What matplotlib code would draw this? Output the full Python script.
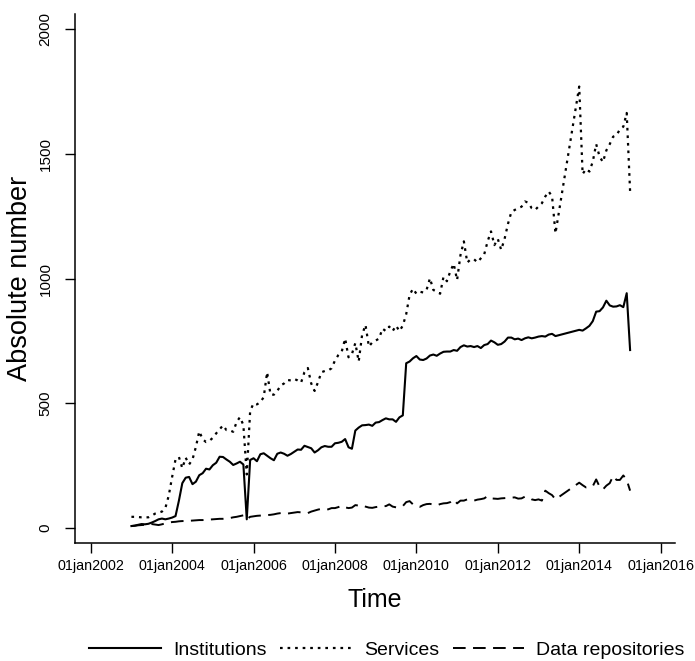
import matplotlib.pyplot as plt
import pandas as pd

plt.switch_backend("Agg")
plt.rcParams["font.family"] = ["Liberation Sans", "DejaVu Sans"]

# monthly counts, Jan 2003 - Apr 2015 (no observations Jul-Dec 2013)
months = pd.date_range("2003-01-01", "2015-04-01", freq="MS")
months = months[(months < "2013-07-01") | (months >= "2014-01-01")]

institutions = [
    8, 10, 13, 16, 15, 17, 22, 28, 35, 38, 35, 38,
    42, 48, 110, 180, 202, 205, 176, 186, 212, 220, 238, 235,
    252, 262, 286, 285, 275, 266, 253, 259, 266, 255, 35, 273,
    280, 268, 296, 300, 290, 280, 272, 298, 303, 298, 290, 297,
    306, 315, 314, 330, 325, 320, 303, 312, 324, 329, 326, 326,
    340, 342, 346, 357, 324, 318, 391, 403, 412, 413, 415, 410,
    423, 425, 433, 440, 436, 436, 426, 444, 452, 661, 668, 681,
    690, 676, 674, 680, 692, 696, 691, 700, 707, 708, 708, 714,
    711, 726, 733, 728, 730, 726, 730, 722, 734, 738, 752, 745,
    735, 738, 748, 764, 764, 757, 760, 754, 761, 765, 761, 764,
    768, 770, 768, 776, 779, 770,
    795, 792, 801, 811, 830, 868, 870, 885, 912, 893, 888, 889,
    894, 886, 942, 714,
]
services = [
    45, 45, 44, 43, 43, 43, 50, 58, 62, 66, 80, 130,
    205, 275, 285, 240, 282, 255, 275, 325, 388, 356, 345, 350,
    362, 380, 396, 412, 393, 392, 386, 425, 445, 413, 215, 470,
    500, 496, 505, 525, 625, 535, 535, 550, 572, 580, 594, 592,
    598, 592, 583, 625, 642, 580, 550, 585, 625, 630, 632, 641,
    672, 694, 708, 760, 685, 698, 742, 668, 775, 815, 728, 745,
    752, 760, 800, 790, 808, 790, 812, 790, 812, 858, 935, 960,
    940, 948, 945, 955, 1002, 955, 948, 940, 1008, 990, 1030, 1060,
    995, 1095, 1150, 1065, 1078, 1078, 1066, 1082, 1098, 1150, 1190, 1135,
    1160, 1116, 1160, 1220, 1268, 1276, 1283, 1289, 1310, 1305, 1283, 1276,
    1290, 1303, 1330, 1350, 1330, 1182,
    1771, 1420, 1440, 1430, 1470, 1540, 1490, 1468, 1515, 1540, 1570, 1575,
    1600, 1610, 1665, 1350,
]
repositories = [
    8, 9, 11, 12, 13, 15, 16, 14, 12, 15, 19, 22,
    24, 25, 27, 28, 28, 29, 30, 31, 32, 32, 33, 34,
    35, 36, 37, 37, 38, 40, 43, 45, 48, 51, 36, 45,
    47, 49, 50, 51, 52, 53, 55, 58, 60, 59, 58, 60,
    62, 64, 63, 62, 60, 66, 70, 74, 77, 75, 75, 80,
    80, 84, 90, 83, 80, 82, 92, 90, 92, 86, 82, 81,
    84, 86, 88, 88, 95, 86, 83, 85, 88, 104, 108, 95,
    88, 85, 92, 96, 97, 94, 91, 96, 99, 100, 104, 115,
    99, 110, 110, 115, 112, 110, 114, 116, 119, 128, 119, 118,
    117, 119, 120, 121, 122, 123, 118, 119, 126, 124, 115, 112,
    115, 110, 150, 140, 132, 115,
    182, 172, 163, 165, 168, 195, 166, 155, 170, 180, 209, 193,
    193, 211, 193, 150,
]

tick_years = list(range(2002, 2017, 2))
y_ticks = [0, 500, 1000, 1500, 2000]

x = months.year + (months.month - 1) / 12

fig = plt.figure(figsize=(6.95, 6.61), dpi=100)
ax = fig.add_axes([75 / 695, 118 / 661, 600 / 695, 529 / 661])

ax.plot(x, institutions, color="black", lw=1.5, label="Institutions")
ax.plot(x, services, color="black", lw=1.6, linestyle=(0, (1.2, 2.2)), label="Services")
ax.plot(x, repositories, color="black", lw=1.4, linestyle=(0, (6.5, 3.8)),
        label="Data repositories")

ax.set_xlim(2001.614, 2016.353)
ax.set_ylim(-60, 2062)

ax.set_xticks(tick_years)
ax.set_xticklabels([f"01jan{yr}" for yr in tick_years], fontsize=10.3)
ax.set_yticks(y_ticks)
ax.set_yticklabels([str(v) for v in y_ticks], fontsize=11, rotation=90, va="center")

ax.tick_params(axis="both", length=7.2, width=1, direction="out", color="black")
ax.tick_params(axis="y", pad=9)
ax.tick_params(axis="x", pad=4)

for side in ("top", "right"):
    ax.spines[side].set_visible(False)
for side in ("left", "bottom"):
    ax.spines[side].set_linewidth(1.1)

ax.set_xlabel("Time", fontsize=18)
ax.xaxis.set_label_coords(0.5, -0.085)
ax.xaxis.label.set_va("top")
ax.set_ylabel("Absolute number", fontsize=19.5)
ax.yaxis.set_label_coords(-0.07, 0.5)

fig.legend(loc="center", bbox_to_anchor=(387 / 695, 1 - 650 / 661), ncol=3,
           frameon=False, fontsize=14, handlelength=3.7, columnspacing=0.7,
           handletextpad=0.6)

fig.savefig("out.png", dpi=100, facecolor="white")
